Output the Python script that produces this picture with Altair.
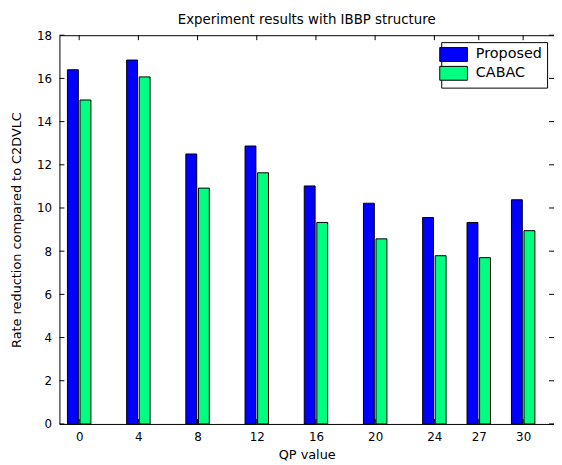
import altair as alt
import pandas as pd

qp = [0, 4, 8, 12, 16, 20, 24, 27, 30]
proposed = [16.4, 16.85, 12.5, 12.87, 11.02, 10.22, 9.56, 9.33, 10.38]
cabac = [15.0, 16.07, 10.92, 11.63, 9.33, 8.57, 7.79, 7.70, 8.95]
series = ["Proposed", "CABAC"]
colors = ["#0000FF", "#00FF80"]
y_ticks = [0, 2, 4, 6, 8, 10, 12, 14, 16, 18]

rows = []
for q, p, c in zip(qp, proposed, cabac):
    rows.append({"qp": q, "series": "Proposed", "value": p, "off": -0.425})
    rows.append({"qp": q, "series": "CABAC", "value": c, "off": 0.425})
df = pd.DataFrame(rows)

W, H = 500, 393
FONT = "DejaVu Sans"
xscale = alt.Scale(domain=[-1, 31.75], nice=False, zero=False)
yscale = alt.Scale(domain=[0, 18], nice=False)

bars = alt.Chart(df).transform_calculate(
    xc="datum.qp + datum.off"
).mark_bar(size=11, stroke="black", strokeWidth=1).encode(
    x=alt.X("xc:Q", scale=xscale,
            axis=alt.Axis(values=qp, title="QP value", ticks=False, domain=False,
                          grid=False, labelPadding=8, titlePadding=6,
                          labelFlush=False)),
    y=alt.Y("value:Q", scale=yscale,
            axis=alt.Axis(values=y_ticks, title="Rate reduction compared to C2DVLC",
                          ticks=False, domain=False, grid=False, labelPadding=8,
                          titlePadding=13)),
    color=alt.Color("series:N", sort=series,
                    scale=alt.Scale(domain=series, range=colors),
                    legend=alt.Legend(title=None, orient="none", legendX=386, legendY=7,
                                      symbolType="M-2,-1H2V1H-2Z", symbolSize=196,
                                      symbolStrokeColor="black", symbolStrokeWidth=1,
                                      fillColor="white", strokeColor="black",
                                      padding=5, labelOffset=15, rowPadding=0,
                                      labelFontSize=14.5, labelFont=FONT,
                                      labelColor="black")),
)

xt = pd.DataFrame({"t": qp})
yt = pd.DataFrame({"t": y_ticks})

xtick_top = alt.Chart(xt).mark_rule(color="black").encode(
    x=alt.X("t:Q", scale=xscale), y=alt.value(0), y2=alt.value(5))
xtick_bot = alt.Chart(xt).mark_rule(color="black").encode(
    x=alt.X("t:Q", scale=xscale), y=alt.value(H - 5), y2=alt.value(H))
ytick_l = alt.Chart(yt).mark_rule(color="black").encode(
    y=alt.Y("t:Q", scale=yscale), x=alt.value(0), x2=alt.value(5))
ytick_r = alt.Chart(yt).mark_rule(color="black").encode(
    y=alt.Y("t:Q", scale=yscale), x=alt.value(W - 5), x2=alt.value(W))

chart = alt.layer(bars, xtick_top, xtick_bot, ytick_l, ytick_r).properties(
    width=W, height=H,
    title=alt.Title("Experiment results with IBBP structure", fontSize=13.5,
                    fontWeight="normal", font=FONT, color="black", offset=3),
    autosize=alt.AutoSizeParams(type="none"),
    padding={"left": 52, "top": 25, "right": 0, "bottom": 40},
).configure_view(stroke="black", strokeWidth=1).configure_axis(
    labelFont=FONT, titleFont=FONT, labelFontSize=12, titleFontSize=13,
    labelColor="black", titleColor="black", titleFontWeight="normal"
)

chart.save("out.html", embed_options={"renderer": "svg", "actions": False})
